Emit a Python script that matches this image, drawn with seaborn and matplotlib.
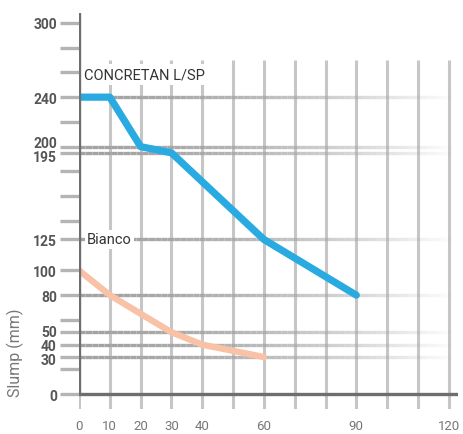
import numpy as np
import pandas as pd
import seaborn as sns
import matplotlib
matplotlib.use("Agg")
import matplotlib.pyplot as plt
from matplotlib.collections import LineCollection
from matplotlib.transforms import ScaledTranslation

# ---- data ----
time_concretan = [0, 10, 20, 30, 60, 90]
slump_concretan = [240, 240, 200, 195, 125, 80]
time_bianco = [0, 10, 20, 30, 40, 60]
slump_bianco = [100, 80, 65, 50, 40, 30]

x_ticks = [0, 10, 20, 30, 40, 60, 90, 120]
y_ticks = [0, 30, 40, 50, 80, 100, 125, 195, 200, 240, 300]
y_minor = [20, 60, 140, 160, 180, 220, 260, 280]
y_grid = [30, 40, 50, 80, 125, 195, 200, 240]
x_grid = list(range(0, 121, 10))
series_names = ["CONCRETAN L/SP", "Bianco"]

sns.set_theme(style="white")
plt.rcParams["font.family"] = ["Roboto", "DejaVu Sans"]

fig = plt.figure(figsize=(4.63, 4.35), dpi=100)
ax = fig.add_axes([79 / 463, 25 / 435, 379 / 463, 396 / 435])
XMAX, YMIN, YMAX = 123, -12, 308
ax.set_xlim(0, XMAX)
ax.set_ylim(YMIN, YMAX)
for s in ax.spines.values():
    s.set_visible(False)

# vertical grid
ax.vlines(x_grid, YMIN, 270, color="#c6c6c6", lw=2.2, zorder=1)

# fading horizontal grid
n = 60
xs = np.linspace(0, XMAX, n + 1)
for yv in y_grid:
    segs = [[(xs[i], yv), (xs[i + 1], yv)] for i in range(n)]
    t = np.linspace(0, 1, n)
    cols = [(0.64, 0.64, 0.64, max(0.0, 1 - tt ** 1.8)) for tt in t]
    lc = LineCollection(segs, colors=cols, linewidths=2.4, zorder=1.5,
                        capstyle="butt")
    ax.add_collection(lc)

# axes lines
ax.axvline(0, ymin=(0 - YMIN) / (YMAX - YMIN), ymax=1, color="#6e6e6e", lw=2.4, zorder=5)
ax.axhline(0, xmin=0, xmax=1, color="#6e6e6e", lw=2.4, zorder=5)

# data lines
sns.lineplot(x=time_concretan, y=slump_concretan, color="#29abe2", lw=5.2,
             ax=ax, zorder=4, solid_capstyle="round", solid_joinstyle="round")
sns.lineplot(x=time_bianco, y=slump_bianco, color="#f9c1a6", lw=4.6,
             ax=ax, zorder=4, solid_capstyle="round", solid_joinstyle="round")

# labels on chart
ax.text(1.6, 258, series_names[0], fontsize=10.5, color="#333333", va="center",
        ha="left", zorder=3,
        bbox=dict(facecolor="white", edgecolor="none", pad=2.5))
ax.text(2.6, 125, series_names[1], fontsize=10.5, color="#333333", va="center",
        ha="left", zorder=3,
        bbox=dict(facecolor="white", edgecolor="none", pad=1.5))

# ticks
ax.set_yticks(y_ticks)
ax.set_yticklabels([str(v) for v in y_ticks], fontsize=10, fontweight="bold",
                   color="#555555")
ax.set_yticks(y_minor, minor=True)
ax.tick_params(axis="y", which="both", left=True, length=14, width=2.4,
               color="#b4b4b4", pad=2)
# nudge crowded labels apart (in points)
nudge = {200: 4.0, 195: -1.6, 50: 1.2, 30: -1.2}
for lab, v in zip(ax.get_yticklabels(), y_ticks):
    if v in nudge:
        lab.set_transform(lab.get_transform() +
                          ScaledTranslation(0, nudge[v] / 72, fig.dpi_scale_trans))

ax.set_xticks(x_ticks)
ax.set_xticklabels([str(v) for v in x_ticks], fontsize=9.5, color="#777777")
ax.tick_params(axis="x", length=0, pad=7.5)
ax.grid(False)

fig.text(15 / 463, 1 - 353 / 435, "Slump (mm)", rotation=90, ha="center",
         va="center", fontsize=11.5, color="#777777")

fig.savefig("out.png", dpi=100)
